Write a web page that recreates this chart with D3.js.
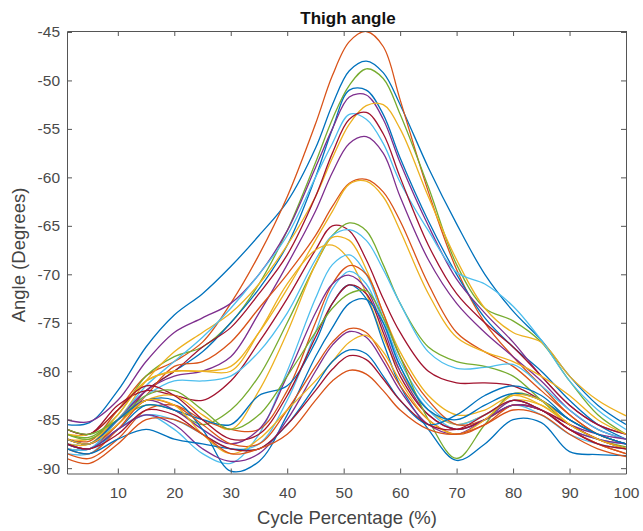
<!DOCTYPE html>
<html>
<head>
<meta charset="utf-8">
<script src="https://cdn.jsdelivr.net/npm/d3@7"></script>
<style>
  body { margin: 0; background: #fff; }
  svg { display: block; font-family: "Liberation Sans", Arial, Helvetica, sans-serif; }
</style>
</head>
<body>
<div id="chart"></div>
<script>
const cyclePct = [1, 5, 10, 15, 20, 25, 30, 35, 40, 45, 48, 51, 54, 57, 60, 65, 70, 75, 80, 85, 90, 95, 100];

// thigh angle for each trial (degrees), same order as cyclePct
const trial01 = [-85.5, -85.3, -82, -77.5, -74.2, -72, -69.2, -66, -62.5, -57, -52.5, -49, -48, -49.2, -52.5, -59, -64.8, -70, -73.8, -76.8, -80.5, -83.5, -85.5];
const trial02 = [-87, -87.2, -84, -80.5, -79, -77, -73, -68, -62, -54.5, -49.5, -46, -44.95, -46.5, -52, -61.5, -69.5, -75, -78.5, -81.5, -84.5, -86.5, -87.5];
const trial03 = [-86.5, -86.8, -84.5, -80.5, -78.5, -77.5, -75, -71, -65.5, -58.5, -54, -50.5, -48.8, -49.8, -53.5, -61, -69, -73.5, -74.8, -77, -81, -84.5, -86.5];
const trial04 = [-87.5, -88, -85, -82, -80, -78, -75, -71.5, -67, -60, -55, -51, -51, -53.5, -58, -64.5, -70, -74.5, -77.5, -80, -83, -85.5, -87];
const trial05 = [-85, -85.2, -83, -79, -76, -74.5, -73, -70, -65.5, -59, -55, -51.7, -51.5, -54, -58.5, -65, -70.5, -74, -77, -80.5, -83.5, -85.5, -86.5];
const trial06 = [-87, -87, -85, -81, -78, -76, -74, -71, -67, -62, -58, -54.5, -52.6, -52.5, -55, -62, -68.5, -73.5, -76, -77, -80.5, -83, -84.6];
const trial07 = [-87.5, -87.5, -85, -81.5, -79, -76.5, -73.5, -70, -66, -60, -56.5, -53.5, -54, -56.5, -60.5, -65.5, -69.8, -71, -73.3, -76.8, -81, -84, -86];
const trial08 = [-87, -87.5, -85.5, -82, -80, -77.5, -75.5, -72, -68, -62, -57.5, -54, -53.3, -55.5, -60, -67, -72, -75, -77.5, -80.5, -83.5, -85.5, -86.5];
const trial09 = [-87, -87.5, -85, -82, -80.5, -80, -78.5, -74, -69, -63.5, -59.5, -56.5, -55.8, -57.5, -62, -68.5, -73, -76, -78.5, -81, -84, -86, -87];
const trial10 = [-88, -88, -85.5, -82.5, -79.5, -79, -77, -73.5, -70, -66, -63, -60.6, -60.2, -61.5, -64.5, -71, -76, -78, -79.5, -82, -84.5, -86.5, -87.5];
const trial11 = [-86.5, -86.5, -84, -81, -80, -80, -79.5, -76, -71.5, -66.5, -63.5, -60.7, -60.4, -62, -65.5, -72, -76.5, -78, -79, -80.5, -82.5, -85, -86.5];
const trial12 = [-86, -86.5, -83.5, -82, -82.5, -83, -81, -77, -72.5, -67.5, -65, -65.5, -68.5, -72.5, -76, -80, -81.2, -81.2, -81.5, -83, -85, -86.5, -87.5];
const trial13 = [-86.5, -87, -85, -83.5, -84, -85.5, -84, -80.5, -75, -69, -66, -64.7, -65.5, -69, -73, -77.5, -79, -79.5, -80.5, -83, -85.5, -87, -87.8];
const trial14 = [-88, -88, -85, -82.5, -81, -81, -80.5, -78, -74, -68.5, -66, -65.4, -66.5, -69.5, -73, -78, -79.7, -79.6, -79.3, -81.5, -84, -86, -87];
const trial15 = [-87, -87.5, -85, -83, -82.5, -84.5, -86, -82, -76, -69, -66.2, -66.5, -69.5, -74, -78, -82.5, -84.5, -84, -82.5, -83.5, -85.5, -87, -88];
const trial16 = [-87.5, -87.5, -84.5, -81, -80, -80, -80, -76, -71, -67.5, -67, -68.5, -72, -76.5, -80, -84, -85.5, -84.5, -83, -83.5, -85.5, -87, -88];
const trial17 = [-88.5, -88.5, -86, -84.5, -86, -88.5, -89.5, -86.5, -80, -72.5, -69, -68, -70, -74.5, -79, -83.5, -85.5, -84.5, -83, -84, -86, -87, -87.5];
const trial18 = [-88.5, -89, -87, -84, -83.5, -85, -86, -86, -82, -75, -71, -69.1, -70, -74, -78.5, -83, -85.5, -85, -83.5, -84, -86, -87.5, -88.5];
const trial19 = [-88, -88, -86, -84.5, -85, -86.5, -88, -87.5, -83, -76, -71.5, -69.7, -71, -75, -79.5, -84, -86, -85, -83.5, -84.5, -86.5, -87.5, -88];
const trial20 = [-87, -87.5, -85, -83, -84, -86, -87.5, -86, -80.5, -74, -71, -70.1, -71.5, -75.5, -80, -84.5, -86, -85, -83, -84, -85.5, -86.5, -87];
const trial21 = [-87.5, -88, -86, -83.5, -84, -85, -85.5, -82.5, -81.5, -77, -73, -71.1, -72.5, -77, -81.5, -86, -89.2, -87.5, -85, -85.3, -88.3, -88.6, -88.7];
const trial22 = [-86, -86.5, -84, -81.5, -82.5, -85, -87, -86.5, -82.5, -76.5, -73, -71.1, -72, -76, -80.5, -84.5, -86, -85, -83.5, -84, -85.5, -87, -88];
const trial23 = [-86, -86.5, -85, -82.5, -82, -84, -86, -84.5, -80.5, -76, -73.5, -72, -71.7, -74.5, -78.5, -85, -89, -85.5, -82.3, -83, -85, -86.5, -87.5];
const trial24 = [-87, -87.5, -85, -83, -83, -86, -90.3, -89.3, -84.5, -78.5, -75.5, -73, -72.6, -75, -79.5, -84, -85, -83.5, -82.3, -83, -85, -86.5, -87.5];
const trial25 = [-88, -88.5, -86, -83, -83.5, -85.5, -87.5, -87.5, -84, -79.5, -77, -75.6, -76, -78.5, -81.5, -85, -86.5, -85.5, -83.5, -84, -86, -87.5, -88.5];
const trial26 = [-87.5, -88, -86, -84.5, -85.5, -88, -89.3, -88.5, -85, -80, -77.3, -75.9, -76.5, -79, -82, -85.5, -86.5, -85, -83.5, -84, -86, -87, -87.5];
const trial27 = [-87, -87.5, -85.5, -83, -83.5, -86.5, -88.5, -87, -84, -81, -79, -77, -76.3, -78, -81, -85, -86.5, -85, -82.5, -83, -85.5, -87, -88];
const trial28 = [-88, -88.5, -87, -86, -87, -87.5, -88, -88, -85.5, -81.5, -79, -77.8, -78.2, -80.5, -83, -85.5, -84.5, -82.5, -81.5, -82.5, -85, -86.5, -87.5];
const trial29 = [-87.5, -88, -86.5, -84, -84.5, -86.5, -88, -88, -85.5, -82, -79.8, -78.4, -78.8, -80.8, -83, -85.5, -86, -84.5, -83, -84, -86, -87.5, -88];
const trial30 = [-89, -89.5, -87.5, -85, -85, -86.5, -88.5, -88, -86.5, -83, -81, -79.9, -80.3, -82, -84, -86, -86.5, -85.5, -84, -84.5, -86.5, -88, -88.8];

// MATLAB default line colours, one per trial
const trialColors = [
  "#0072BD", "#D95319", "#77AC30", "#0072BD", "#7E2F8E", "#EDB120", "#4DBEEE", "#A2142F",
  "#7E2F8E", "#D95319", "#EDB120", "#A2142F", "#77AC30", "#4DBEEE", "#EDB120", "#EDB120",
  "#4DBEEE", "#D95319", "#4DBEEE", "#7E2F8E", "#0072BD", "#A2142F", "#77AC30", "#0072BD",
  "#D95319", "#7E2F8E", "#EDB120", "#0072BD", "#A2142F", "#D95319"
];

const trials = [trial01, trial02, trial03, trial04, trial05, trial06, trial07, trial08, trial09, trial10,
  trial11, trial12, trial13, trial14, trial15, trial16, trial17, trial18, trial19, trial20,
  trial21, trial22, trial23, trial24, trial25, trial26, trial27, trial28, trial29, trial30];

const xTicks = [10, 20, 30, 40, 50, 60, 70, 80, 90, 100];
const yTicks = [-90, -85, -80, -75, -70, -65, -60, -55, -50, -45];

let width = 643;
let height = 531;
let margin = ({top: 31, right: 17, bottom: 57.5, left: 67});

let svg = d3.select("#chart")
    .append("svg")
    .attr("width", width)
    .attr("height", height);

let xScale = d3.scaleLinear()
    .domain([1, 100])
    .range([margin.left, width - margin.right]);

let yScale = d3.scaleLinear()
    .domain([-90.55, -44.9])
    .range([height - margin.bottom, margin.top]);

svg.append("clipPath")
    .attr("id", "plotClip")
  .append("rect")
    .attr("x", margin.left)
    .attr("y", margin.top)
    .attr("width", width - margin.left - margin.right)
    .attr("height", height - margin.top - margin.bottom);

// one line per trial
let line = d3.line()
    .x((d, i) => xScale(cyclePct[i]))
    .y(d => yScale(d))
    .curve(d3.curveCatmullRom.alpha(0.5));

svg.append("g")
    .attr("clip-path", "url(#plotClip)")
  .selectAll("path")
  .data(trials)
  .enter()
  .append("path")
    .attr("d", line)
    .attr("fill", "none")
    .attr("stroke", (d, i) => trialColors[i])
    .attr("stroke-width", 1.3);

// axes, MATLAB style: box on, ticks pointing inwards
let axisColor = "#555";
let plain = d => String(d);   // keep the ascii hyphen like MATLAB

let xAxis = d3.axisBottom(xScale).tickValues(xTicks).tickSize(-5).tickSizeOuter(0).tickPadding(13).tickFormat(plain);
let yAxis = d3.axisLeft(yScale).tickValues(yTicks).tickSize(-5).tickSizeOuter(0).tickPadding(7).tickFormat(plain);

svg.append("g")
    .attr("transform", "translate(0," + (height - margin.bottom) + ")")
    .call(xAxis);
svg.append("g")
    .attr("transform", "translate(" + margin.left + ",0)")
    .call(yAxis);

svg.append("g")
    .attr("transform", "translate(0," + margin.top + ")")
    .call(d3.axisTop(xScale).tickValues(xTicks).tickSize(-5).tickSizeOuter(0).tickFormat(""));
svg.append("g")
    .attr("transform", "translate(" + (width - margin.right) + ",0)")
    .call(d3.axisRight(yScale).tickValues(yTicks).tickSize(-5).tickSizeOuter(0).tickFormat(""));

svg.selectAll(".domain").attr("stroke", axisColor);
svg.selectAll(".tick line").attr("stroke", axisColor);
svg.selectAll(".tick text")
    .attr("fill", "#4a4a4a")
    .style("font-size", "15.5px")
    .style("font-family", "'Liberation Sans', Arial, sans-serif");

// title and labels
svg.append("text")
    .attr("x", 348)
    .attr("y", 23.5)
    .attr("text-anchor", "middle")
    .style("font-size", "17px")
    .style("font-weight", "bold")
    .attr("fill", "#111")
    .text("Thigh angle");

svg.append("text")
    .attr("x", 347)
    .attr("y", 524)
    .attr("text-anchor", "middle")
    .style("font-size", "18.5px")
    .attr("fill", "#444")
    .text("Cycle Percentage (%)");

svg.append("text")
    .attr("transform", "translate(25,255) rotate(-90)")
    .attr("text-anchor", "middle")
    .style("font-size", "18.5px")
    .attr("fill", "#444")
    .text("Angle (Degrees)");
</script>
</body>
</html>
